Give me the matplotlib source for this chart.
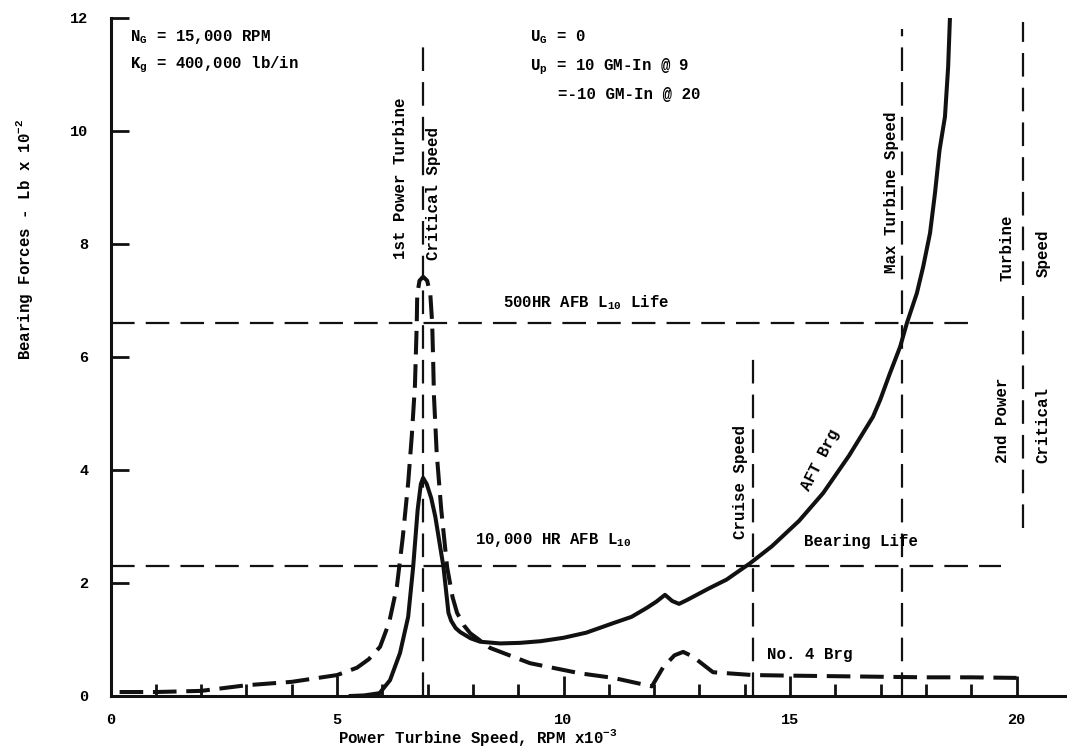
import numpy as np
import matplotlib
matplotlib.use('Agg')
import matplotlib.pyplot as plt

# AFT bearing force vs power turbine speed (solid curve)
aft_speed = [5.3, 5.6, 5.94, 6.17, 6.39, 6.57, 6.68, 6.78, 6.85, 6.9, 6.98, 7.08, 7.17, 7.35,
             7.46, 7.52, 7.62, 7.72, 7.95, 8.16, 8.6, 9.04, 9.5, 10.0, 10.5, 11.1, 11.5, 11.84,
             12.05, 12.24, 12.4, 12.55, 12.73, 13.2, 13.6, 14.12, 14.6, 15.2, 15.73, 16.3, 16.83,
             16.99, 17.2, 17.43, 17.58, 17.8, 17.94, 18.09, 18.2, 18.3, 18.42, 18.49, 18.53]
aft_force = [0.0, 0.01, 0.05, 0.28, 0.76, 1.4, 2.28, 3.3, 3.75, 3.86, 3.75, 3.5, 3.17, 2.28,
             1.47, 1.33, 1.2, 1.13, 1.02, 0.96, 0.93, 0.94, 0.97, 1.03, 1.12, 1.29, 1.4, 1.56,
             1.67, 1.79, 1.68, 1.63, 1.70, 1.9, 2.06, 2.35, 2.65, 3.1, 3.59, 4.25, 4.94,
             5.24, 5.7, 6.18, 6.6, 7.13, 7.6, 8.19, 8.9, 9.66, 10.25, 11.13, 12.0]

# No. 4 bearing force (dashed curve)
no4_speed = [0.2, 1.0, 2.0, 3.0, 4.0, 5.0, 5.44, 5.7, 5.95, 6.15, 6.32, 6.45, 6.57, 6.65,
             6.72, 6.76, 6.77, 6.82, 6.9, 6.99, 7.06, 7.1, 7.12, 7.14, 7.2, 7.3, 7.43, 7.55,
             7.65, 7.8, 7.94, 8.38, 9.26, 10.37, 11.1, 11.95, 12.2, 12.45, 12.64, 12.85, 13.3,
             14.18, 15.0, 16.0, 17.0, 18.0, 19.0, 20.0]
no4_force = [0.07, 0.07, 0.09, 0.19, 0.25, 0.37, 0.5, 0.65, 0.87, 1.3, 1.93, 2.8, 3.77, 4.6,
             5.5, 6.6, 7.1, 7.35, 7.42, 7.35, 7.1, 6.6, 6.0, 5.3, 4.3, 3.3, 2.28, 1.75,
             1.47, 1.25, 1.11, 0.85, 0.58, 0.4, 0.32, 0.17, 0.51, 0.72, 0.78, 0.7, 0.42,
             0.37, 0.36, 0.35, 0.34, 0.33, 0.33, 0.32]

# bearing life limits (horizontal) and reference speeds (vertical)
life_levels = [6.6, 2.3]
life_ends = [19.05, 19.65]
speed_marks = [6.9, 14.18, 17.48, 20.15]
speed_tops = [11.6, 6.12, 11.8, 11.93]
speed_bottoms = [0.0, 0.0, 0.0, 2.97]

ink = '#111111'
plt.rcParams['font.family'] = ['Liberation Mono', 'DejaVu Sans Mono']
plt.rcParams['font.weight'] = 'bold'
plt.rcParams['mathtext.fontset'] = 'custom'
plt.rcParams['mathtext.rm'] = 'Liberation Mono:bold'
plt.rcParams['mathtext.it'] = 'Liberation Mono:bold'
plt.rcParams['mathtext.bf'] = 'Liberation Mono:bold'
plt.rcParams['lines.scale_dashes'] = False

fig = plt.figure(figsize=(10.67, 7.49), dpi=100)
ax = fig.add_axes([0.1036, 0.0708, 0.8958, 0.9052])

ref_dash = (0, (17, 8))
for lvl, xe in zip(life_levels, life_ends):
    ax.plot([0.0, xe], [lvl, lvl], color=ink, lw=1.6, linestyle=ref_dash)
for xs, yt, yb in zip(speed_marks, speed_tops, speed_bottoms):
    ax.plot([xs, xs], [yb, yt], color=ink, lw=1.6, linestyle=ref_dash)

ax.plot(aft_speed, aft_force, color=ink, lw=2.9, solid_joinstyle='round')
ax.plot(no4_speed, no4_force, color=ink, lw=2.9, linestyle=(0, (17, 7)),
        dash_capstyle='butt', dash_joinstyle='round')

ax.set_xlim(0, 21.1)
ax.set_ylim(0, 12)
ax.spines['top'].set_visible(False)
ax.spines['right'].set_visible(False)
for s in ('left', 'bottom'):
    ax.spines[s].set_linewidth(2.2)
    ax.spines[s].set_color(ink)

ax.set_xticks([0, 5, 10, 15, 20])
ax.set_xticks(range(0, 21), minor=True)
ax.set_yticks(range(0, 13, 2))
ax.tick_params(axis='both', which='major', direction='in', width=2.0, color=ink,
               labelsize=11, pad=12)
ax.tick_params(axis='x', which='major', length=14.5)
ax.tick_params(axis='y', which='major', length=13, pad=16)
ax.tick_params(axis='x', which='minor', direction='in', length=8.5, width=2.0, color=ink)

fs = 11.3
ax.text(0.43, 11.66, r'$\mathrm{N}_{\mathrm{G}}$ = 15,000 RPM', fontsize=fs, va='center')
ax.text(0.43, 11.17, r'$\mathrm{K}_{\mathrm{g}}$ = 400,000 lb/in', fontsize=fs, va='center')
ax.text(9.26, 11.66, r'$\mathrm{U}_{\mathrm{G}}$ = 0', fontsize=fs, va='center')
ax.text(9.26, 11.13, r'$\mathrm{U}_{\mathrm{p}}$ = 10 GM-In @ 9', fontsize=fs, va='center')
ax.text(9.88, 10.64, '=-10 GM-In @ 20', fontsize=fs, va='center')

ax.text(6.39, 9.17, '1st Power Turbine', fontsize=fs, rotation=90, ha='center', va='center')
ax.text(7.12, 8.9, 'Critical Speed', fontsize=fs, rotation=90, ha='center', va='center')
ax.text(17.25, 8.92, 'Max Turbine Speed', fontsize=fs, rotation=90, ha='center', va='center')
ax.text(19.79, 7.93, 'Turbine', fontsize=fs, rotation=90, ha='center', va='center')
ax.text(20.58, 7.84, 'Speed', fontsize=fs, rotation=90, ha='center', va='center')
ax.text(19.7, 4.88, '2nd Power', fontsize=fs, rotation=90, ha='center', va='center')
ax.text(20.58, 4.8, 'Critical', fontsize=fs, rotation=90, ha='center', va='center')
ax.text(13.9, 3.79, 'Cruise Speed', fontsize=fs, rotation=90, ha='center', va='center')
ax.text(15.66, 4.18, 'AFT Brg', fontsize=fs, rotation=63, ha='center', va='center')

ax.text(8.66, 6.96, r'500HR AFB L$_{\mathrm{10}}$ Life', fontsize=fs, va='center')
ax.text(8.05, 2.76, r'10,000 HR AFB L$_{\mathrm{10}}$', fontsize=fs, va='center')
ax.text(16.57, 2.73, 'Bearing Life', fontsize=fs, ha='center', va='center')
ax.text(14.49, 0.73, 'No. 4 Brg', fontsize=fs, va='center')

fig.text(0.448, 0.016, r'Power Turbine Speed, RPM x10$^{\mathrm{-3}}$', fontsize=fs,
         ha='center', va='center')
fig.text(0.0234, 0.68, r'Bearing Forces - Lb x 10$^{\mathrm{-2}}$', fontsize=fs,
         rotation=90, ha='center', va='center')

fig.savefig('out.png', dpi=100, facecolor='white')
